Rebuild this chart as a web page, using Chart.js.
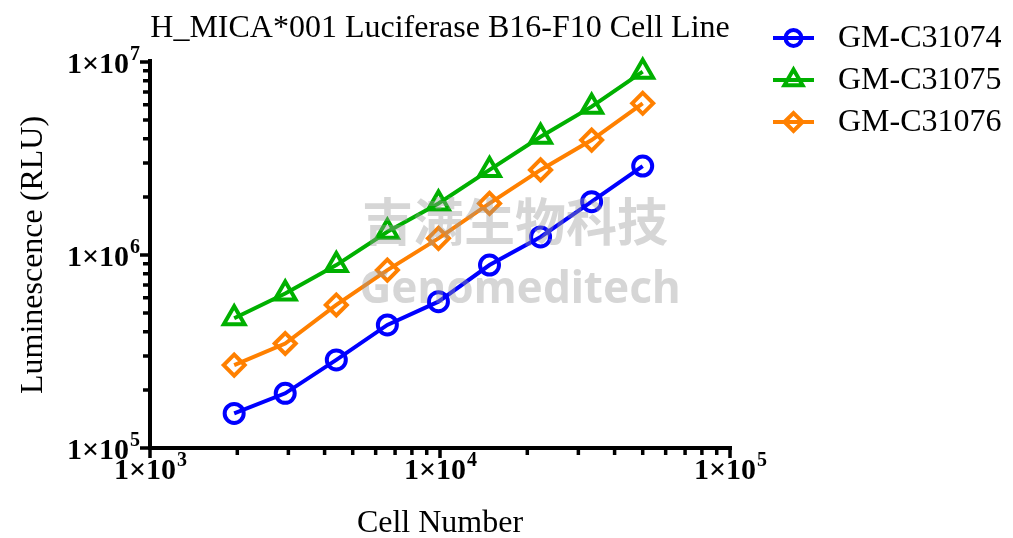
<!DOCTYPE html>
<html>
<head>
<meta charset="utf-8">
<script src="https://cdn.jsdelivr.net/npm/chart.js@4.4.1/dist/chart.umd.min.js"></script>
<style>
  html, body { margin: 0; padding: 0; background: #fff; }
  #wrap { width: 1013px; height: 538px; position: relative; }
</style>
</head>
<body>
<div id="wrap"><canvas id="lumChart"></canvas></div>
<script>
/* ================= DATA ================= */
const cellNumbers = [1951, 2926, 4390, 6584, 9877, 14815, 22222, 33333, 50000];
const seriesNames = ['GM-C31074', 'GM-C31075', 'GM-C31076'];
const rlu31074 = [151000, 192000, 286000, 434000, 573000, 887000, 1240000, 1890000, 2890000];
const rlu31075 = [470000, 632000, 887000, 1320000, 1850000, 2760000, 4100000, 5870000, 8910000];
const rlu31076 = [269000, 348000, 551000, 835000, 1220000, 1850000, 2760000, 3940000, 6110000];
const xDecades = [3, 4, 5];
const yDecades = [5, 6, 7];

const colors = ['#0000ff', '#00b000', '#ff8000'];
const markers = ['circle', 'triangle', 'rectRot'];
const markerSize = [9.5, 12, 10.5];
const serif = '"Liberation Serif", "Times New Roman", serif';

const toPoints = vals => vals.map((v, i) => ({ x: cellNumbers[i], y: v }));

/* ================= AXES / LABELS PLUGIN ================= */
function drawPow(ctx, exp, x, y, align) {
  ctx.font = 'bold 30px ' + serif;
  const base = '1×10';
  const w1 = ctx.measureText(base).width;
  ctx.font = 'bold 20px ' + serif;
  const w2 = ctx.measureText(String(exp)).width;
  let left = align === 'right' ? x - w1 - w2 : x - (w1 + w2) / 2;
  ctx.textAlign = 'left';
  ctx.textBaseline = 'middle';
  ctx.font = 'bold 30px ' + serif;
  ctx.fillText(base, left, y);
  ctx.font = 'bold 20px ' + serif;
  ctx.fillText(String(exp), left + w1 + 1, y - 10);
}

const decorPlugin = {
  id: 'decor',
  afterDatasetsDraw(chart) {
    const { ctx, chartArea: a, scales: { x, y } } = chart;
    ctx.save();
    ctx.fillStyle = '#000';
    ctx.strokeStyle = '#000';

    // axis lines
    ctx.lineWidth = 4;
    ctx.beginPath();
    ctx.moveTo(a.left, a.top - 3);
    ctx.lineTo(a.left, a.bottom + 2);
    ctx.moveTo(a.left - 2, a.bottom);
    ctx.lineTo(a.right + 2, a.bottom);
    ctx.stroke();

    // ticks
    ctx.lineWidth = 3.5;
    ctx.beginPath();
    for (let d = yDecades[0]; d <= yDecades[yDecades.length - 1]; d++) {
      const py = y.getPixelForValue(Math.pow(10, d));
      ctx.moveTo(a.left, py); ctx.lineTo(a.left - 10, py);
      if (d < yDecades[yDecades.length - 1]) {
        for (let k = 2; k <= 9; k++) {
          const pm = y.getPixelForValue(k * Math.pow(10, d));
          ctx.moveTo(a.left, pm); ctx.lineTo(a.left - 7, pm);
        }
      }
    }
    for (let d = xDecades[0]; d <= xDecades[xDecades.length - 1]; d++) {
      const px = x.getPixelForValue(Math.pow(10, d));
      ctx.moveTo(px, a.bottom); ctx.lineTo(px, a.bottom + 10);
      if (d < xDecades[xDecades.length - 1]) {
        for (let k = 2; k <= 9; k++) {
          const pm = x.getPixelForValue(k * Math.pow(10, d));
          ctx.moveTo(pm, a.bottom); ctx.lineTo(pm, a.bottom + 7);
        }
      }
    }
    ctx.stroke();

    // tick labels
    yDecades.forEach(d => drawPow(ctx, d, a.left - 11, y.getPixelForValue(Math.pow(10, d)) + 3, 'right'));
    xDecades.forEach(d => drawPow(ctx, d, x.getPixelForValue(Math.pow(10, d)), a.bottom + 23, 'center'));

    // titles
    ctx.font = '32px ' + serif;
    ctx.textAlign = 'center';
    ctx.textBaseline = 'alphabetic';
    ctx.fillText('H_MICA*001 Luciferase B16-F10 Cell Line', (a.left + a.right) / 2, 37);
    ctx.fillText('Cell Number', (a.left + a.right) / 2, 532);
    ctx.save();
    ctx.translate(42, (a.top + a.bottom) / 2);
    ctx.rotate(-Math.PI / 2);
    ctx.fillText('Luminescence (RLU)', 0, 0);
    ctx.restore();

    // legend
    seriesNames.forEach((name, i) => {
      const ly = 38 + i * 42;
      ctx.strokeStyle = colors[i];
      ctx.fillStyle = 'rgba(0,0,0,0)';
      ctx.lineWidth = 4;
      ctx.beginPath();
      ctx.moveTo(773, ly); ctx.lineTo(814, ly);
      ctx.stroke();
      Chart.helpers.drawPoint(ctx, { pointStyle: markers[i], radius: markerSize[i] - 1.5, borderWidth: 4, rotation: 0 }, 793.5, ly);
      ctx.fillStyle = '#000';
      ctx.font = '32px ' + serif;
      ctx.textAlign = 'left';
      ctx.textBaseline = 'middle';
      ctx.fillText(name, 838, ly + 1);
    });

    // watermark
    ctx.globalAlpha = 0.4;
    ctx.fillStyle = '#999';
    ctx.textAlign = 'center';
    ctx.textBaseline = 'middle';
    ctx.font = 'bold 51px "Noto Sans CJK SC", sans-serif';
    ctx.fillText('吉满生物科技', 515, 222);
    ctx.font = 'bold 44px "Noto Sans", sans-serif';
    ctx.fillText('Genomeditech', 520, 290);
    ctx.restore();
  }
};

/* ================= CHART ================= */
const datasets = [rlu31074, rlu31075, rlu31076].map((vals, i) => ({
  label: seriesNames[i],
  data: toPoints(vals),
  borderColor: colors[i],
  backgroundColor: 'rgba(0,0,0,0)',
  borderWidth: 4,
  pointStyle: markers[i],
  pointRadius: markerSize[i],
  pointBorderWidth: 4,
  pointBorderColor: colors[i],
  pointBackgroundColor: 'rgba(255,255,255,0)',
  tension: 0,
  fill: false,
  clip: false
}));

new Chart(document.getElementById('lumChart'), {
  type: 'line',
  data: { datasets },
  options: {
    responsive: true,
    maintainAspectRatio: false,
    animation: false,
    layout: { padding: { left: 150, right: 283, top: 62, bottom: 90 } },
    plugins: {
      legend: { display: false },
      title: { display: false },
      tooltip: { enabled: false }
    },
    scales: {
      x: { type: 'logarithmic', min: 1000, max: 100000, display: false },
      y: { type: 'logarithmic', min: 100000, max: 10000000, display: false }
    }
  },
  plugins: [decorPlugin]
});
</script>
</body>
</html>
